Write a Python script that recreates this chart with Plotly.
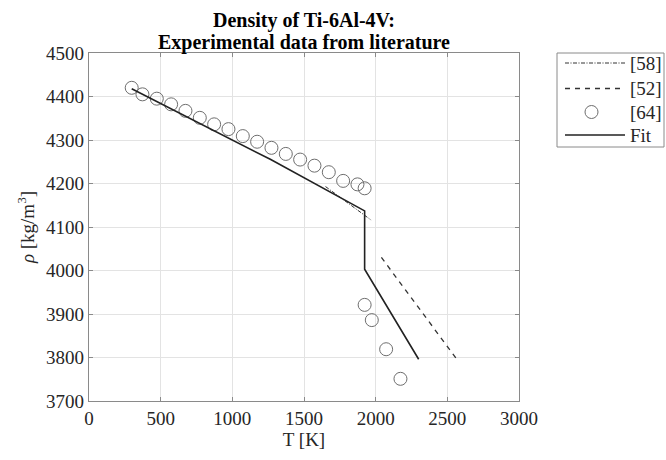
import plotly.graph_objects as go

# Data
T_58 = [1650, 1968]
rho_58 = [4193, 4116]

T_52 = [2040, 2575]
rho_52 = [4030, 3792]

T_64 = [298, 373, 473, 573, 673, 773, 873, 973, 1073, 1173, 1273, 1373, 1473,
        1573, 1673, 1773, 1873, 1923, 1923, 1973, 2073, 2173]
rho_64 = [4420, 4405, 4395, 4382, 4367, 4351, 4336, 4325, 4309, 4296, 4282, 4268, 4255,
          4241, 4226, 4206, 4198, 4189, 3921, 3886, 3819, 3751]

T_fit = [298, 1268, 1923, 1923, 2300]
rho_fit = [4418, 4255, 4137, 4003, 3796]

series_names = ["[58]", "[52]", "[64]", "Fit"]
title_lines = ["Density of Ti-6Al-4V:", "Experimental data from literature"]
x_ticks = [0, 500, 1000, 1500, 2000, 2500, 3000]
y_ticks = [3700, 3800, 3900, 4000, 4100, 4200, 4300, 4400, 4500]

FONT = "Liberation Serif"
W, H = 666, 460
L, R, T, B = 89, 519, 53, 401

DASH_58 = "4px,1.5px,1px,1.5px"
DASH_52 = "5px,5px"
C_LINE = "#333333"
C_MARK = "#6e6e6e"
C_FIT = "#222222"
C_AX = "#8a8a8a"


def px(xpix):
    return (xpix - L) / (R - L)


def py(ypix):
    return (B - ypix) / (B - T)


fig = go.Figure()
fig.add_trace(go.Scatter(x=T_58, y=rho_58, mode="lines", name=series_names[0],
                         line=dict(color=C_LINE, width=1, dash=DASH_58)))
fig.add_trace(go.Scatter(x=T_52, y=rho_52, mode="lines", name=series_names[1],
                         line=dict(color=C_LINE, width=1.3, dash=DASH_52)))
fig.add_trace(go.Scatter(x=T_64, y=rho_64, mode="markers", name=series_names[2],
                         marker=dict(symbol="circle-open", size=13,
                                     color=C_MARK, line=dict(width=1, color=C_MARK))))
fig.add_trace(go.Scatter(x=T_fit, y=rho_fit, mode="lines", name=series_names[3],
                         line=dict(color=C_FIT, width=1.6)))

axis_common = dict(
    showgrid=True, gridcolor="#e3e3e3", gridwidth=1,
    showline=True, linecolor=C_AX, linewidth=1.3, mirror="ticks",
    ticks="inside", ticklen=4, tickcolor=C_AX,
    zeroline=False,
    tickfont=dict(family=FONT, size=19, color="#262626"),
)

fig.update_layout(
    width=W, height=H,
    margin=dict(l=L, r=W - R, t=T, b=H - B, pad=0),
    paper_bgcolor="white", plot_bgcolor="white",
    font=dict(family=FONT, color="#262626"),
    xaxis=dict(range=[0, 3000], tickvals=x_ticks, **axis_common,
               title=dict(text="T [K]", font=dict(family=FONT, size=19, color="#262626"), standoff=4)),
    yaxis=dict(range=[3700, 4500], tickvals=y_ticks, **axis_common,
               title=dict(text="<i>ρ</i> [kg/m<sup>3</sup>]", font=dict(family=FONT, size=19, color="#262626"), standoff=6)),
    showlegend=False,
)

# Title
fig.add_annotation(text="<b>" + title_lines[0] + "</b>", xref="paper", yref="paper",
                   x=0.5, y=py(21), xanchor="center", yanchor="middle",
                   showarrow=False, font=dict(family=FONT, size=20, color="black"))
fig.add_annotation(text="<b>" + title_lines[1] + "</b>", xref="paper", yref="paper",
                   x=0.5, y=py(42), xanchor="center", yanchor="middle",
                   showarrow=False, font=dict(family=FONT, size=20, color="black"))

# Manual legend (MATLAB style)
fig.add_shape(type="rect", xref="paper", yref="paper",
              x0=px(557), x1=px(664), y0=py(147), y1=py(53),
              line=dict(color=C_AX, width=1), fillcolor="white", layer="above")
rows_y = [63, 88.5, 112, 135]
styles = [("line", DASH_58, 1), ("line", DASH_52, 1.3), ("marker", None, 1), ("line", "solid", 1.6)]
colors = [C_LINE, C_LINE, C_MARK, C_FIT]
for name, yrow, (kind, dash, wid), col in zip(series_names, rows_y, styles, colors):
    if kind == "line":
        fig.add_shape(type="line", xref="paper", yref="paper",
                      x0=px(565), x1=px(625), y0=py(yrow), y1=py(yrow),
                      line=dict(color=col, width=wid, dash=dash), layer="above")
    else:
        fig.add_shape(type="circle", xref="paper", yref="paper",
                      x0=px(591.5 - 6.5), x1=px(591.5 + 6.5),
                      y0=py(yrow + 6.5), y1=py(yrow - 6.5),
                      line=dict(color=col, width=1), layer="above")
    fig.add_annotation(text=name, xref="paper", yref="paper",
                       x=px(628), y=py(yrow), xanchor="left", yanchor="middle",
                       showarrow=False, font=dict(family=FONT, size=19, color="#262626"))

fig.write_html("out.html")
